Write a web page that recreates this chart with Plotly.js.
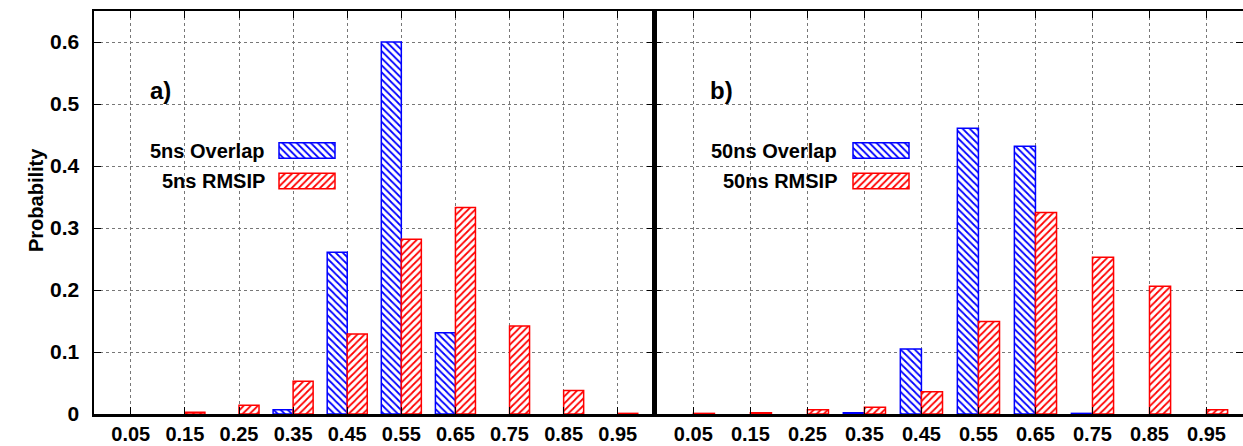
<!DOCTYPE html>
<html>
<head>
<meta charset="utf-8">
<script src="https://cdn.plot.ly/plotly-3.0.1.min.js"></script>
<style>html,body{margin:0;padding:0;background:#fff;}#chart{width:1243px;height:446px;}</style>
</head>
<body>
<div id="chart"></div>
<script>
const categories = ['0.05','0.15','0.25','0.35','0.45','0.55','0.65','0.75','0.85','0.95'];
const overlap5  = [0, 0, 0, 0.007, 0.261, 0.600, 0.131, 0, 0, 0];
const rmsip5    = [0, 0.003, 0.014, 0.053, 0.129, 0.282, 0.333, 0.142, 0.038, 0.001];
const overlap50 = [0, 0, 0, 0.002, 0.105, 0.461, 0.432, 0.001, 0, 0];
const rmsip50   = [0.001, 0.002, 0.007, 0.011, 0.036, 0.149, 0.325, 0.253, 0.206, 0.007];
const seriesNames = ['5ns Overlap', '5ns RMSIP', '50ns Overlap', '50ns RMSIP'];
const panelLabels = ['a)', 'b)'];
const yTitle = 'Probability';

const BLUE = '#0000ff', RED = '#ff0000';
const FONT = 'Liberation Sans, Arial, sans-serif';

function barTrace(name, vals, color, shape, xa, ya) {
  return {
    type: 'bar', name: name, x: categories, y: vals, xaxis: xa, yaxis: ya,
    showlegend: false, hoverinfo: 'x+y+name',
    marker: {
      color: '#ffffff',
      line: {color: color, width: vals.map(v => v > 0 ? 1.5 : 0)},
      pattern: {shape: shape, fgcolor: color, bgcolor: '#ffffff', size: 5, solidity: 0.35}
    }
  };
}
// legend swatches drawn as bars on an auxiliary pixel-unit subplot
function swatch(color, shape, x0, yc) {
  return {
    type: 'bar', orientation: 'h', x: [56], base: [x0], y: [yc], width: [15.5], offset: -7.75,
    xaxis: 'x3', yaxis: 'y3', showlegend: false, hoverinfo: 'skip',
    marker: {
      color: '#ffffff',
      line: {color: color, width: 1.5},
      pattern: {shape: shape, fgcolor: color, bgcolor: '#ffffff', size: 5, solidity: 0.35}
    }
  };
}

const data = [
  barTrace(seriesNames[0], overlap5, BLUE, '\\', 'x', 'y'),
  barTrace(seriesNames[1], rmsip5, RED, '/', 'x', 'y'),
  barTrace(seriesNames[2], overlap50, BLUE, '\\', 'x2', 'y2'),
  barTrace(seriesNames[3], rmsip50, RED, '/', 'x2', 'y2'),
  swatch(BLUE, '\\', 279, 150.5),
  swatch(RED, '/', 279, 181),
  swatch(BLUE, '\\', 853, 150.5),
  swatch(RED, '/', 853, 181)
];

const L = 94, T = 11, B = 32, W = 1243, H = 446;
const PW = W - L, PH = H - T - B;
const split = (654 - L) / PW;
const px = v => (v - L) / PW;
const py = v => (H - B - v) / PH;

const tickFont = {family: FONT, size: 20, color: '#000', weight: 'bold'};
const common = {
  showline: true, linecolor: '#000', linewidth: 2.5, mirror: 'ticks',
  ticks: 'inside', ticklen: 7, tickwidth: 1, tickcolor: '#000',
  showgrid: true, gridcolor: '#777', griddash: 'dot', gridwidth: 1,
  zeroline: false, tickfont: tickFont
};

const layout = {
  width: W, height: H,
  margin: {l: L, r: 0, t: T, b: B, pad: 0},
  paper_bgcolor: '#ffffff', plot_bgcolor: 'rgba(0,0,0,0)',
  barmode: 'group', bargap: 0.26, bargroupgap: 0,
  font: {family: FONT, color: '#000'},
  xaxis: Object.assign({}, common, {domain: [0, split], anchor: 'y', type: 'category',
    range: [-0.68, 9.67], ticklabelstandoff: 0}),
  yaxis: Object.assign({}, common, {domain: [0, 1], anchor: 'x', range: [0, 0.65],
    dtick: 0.1, tick0: 0, ticklabelstandoff: 8, tickfont: Object.assign({}, tickFont, {size: 21})}),
  xaxis2: Object.assign({}, common, {domain: [split, 1], anchor: 'y2', type: 'category',
    range: [-0.69, 9.64], ticklabelstandoff: 0}),
  yaxis2: Object.assign({}, common, {domain: [0, 1], anchor: 'x2', range: [0, 0.65],
    dtick: 0.1, tick0: 0, showticklabels: false}),
  xaxis3: {domain: [0, 1], anchor: 'y3', range: [L, W], visible: false, fixedrange: true},
  yaxis3: {domain: [0, 1], anchor: 'x3', range: [H - B, T], visible: false, fixedrange: true},
  annotations: [
    {xref: 'paper', yref: 'paper', x: px(23), y: py(200), text: yTitle, textangle: -90,
     showarrow: false, font: {family: FONT, size: 20, weight: 'bold', color: '#000'}},
    {xref: 'paper', yref: 'paper', x: px(148), y: py(75), xanchor: 'left', text: panelLabels[0],
     showarrow: false, font: {family: FONT, size: 24, weight: 'bold', color: '#000'}},
    {xref: 'paper', yref: 'paper', x: px(708), y: py(75), xanchor: 'left', text: panelLabels[1],
     showarrow: false, font: {family: FONT, size: 24, weight: 'bold', color: '#000'}},
    {xref: 'paper', yref: 'paper', x: px(267), y: py(150.5), xanchor: 'right', text: seriesNames[0],
     showarrow: false, font: {family: FONT, size: 20, weight: 'bold', color: '#000'}},
    {xref: 'paper', yref: 'paper', x: px(267), y: py(181), xanchor: 'right', text: seriesNames[1],
     showarrow: false, font: {family: FONT, size: 20, weight: 'bold', color: '#000'}},
    {xref: 'paper', yref: 'paper', x: px(839), y: py(150.5), xanchor: 'right', text: seriesNames[2],
     showarrow: false, font: {family: FONT, size: 20, weight: 'bold', color: '#000'}},
    {xref: 'paper', yref: 'paper', x: px(839), y: py(181), xanchor: 'right', text: seriesNames[3],
     showarrow: false, font: {family: FONT, size: 20, weight: 'bold', color: '#000'}}
  ]
};

Plotly.newPlot('chart', data, layout, {displayModeBar: false, staticPlot: true});
</script>
</body>
</html>
